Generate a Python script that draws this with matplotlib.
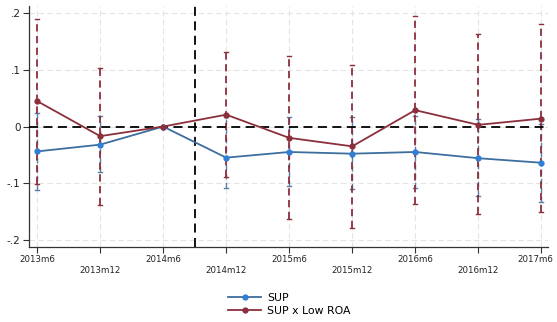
import matplotlib
matplotlib.use("Agg")
import matplotlib.pyplot as plt
import matplotlib.transforms as mtransforms
import numpy as np

periods = ["2013m6", "2013m12", "2014m6", "2014m12", "2015m6",
           "2015m12", "2016m6", "2016m12", "2017m6"]

sup = [-0.044, -0.032, 0.0, -0.055, -0.045, -0.048, -0.045, -0.056, -0.064]
sup_lo = [-0.112, -0.081, 0.0, -0.109, -0.105, -0.111, -0.109, -0.123, -0.133]
sup_hi = [0.024, 0.019, 0.0, 0.016, 0.016, 0.016, 0.019, 0.014, 0.004]

low = [0.045, -0.017, 0.0, 0.021, -0.020, -0.035, 0.029, 0.003, 0.014]
low_lo = [-0.102, -0.138, 0.0, -0.090, -0.164, -0.179, -0.137, -0.155, -0.151]
low_hi = [0.191, 0.103, 0.0, 0.132, 0.124, 0.109, 0.196, 0.163, 0.181]

yticks = [0.2, 0.1, 0.0, -0.1, -0.2]
ytick_labels = [".2", ".1", "0", "-.1", "-.2"]

blue_line = "#3c6e9e"
blue_mark = "#2f7fd6"
red_line = "#8c2f3d"

fig = plt.figure(figsize=(5.57, 3.22), dpi=100)
ax = fig.add_axes([0.052, 0.233, 0.932, 0.748])

x = np.arange(len(periods))

def draw_ci(xs, lo, hi, color, lw, z):
    for xi, l, h in zip(xs, lo, hi):
        if l == h:
            continue
        ax.plot([xi, xi], [l, h], color=color, lw=lw, ls=(0, (4, 2.5)), zorder=z)
        ax.plot([xi - 0.035, xi + 0.035], [l, l], color=color, lw=1.0, zorder=z)
        ax.plot([xi - 0.035, xi + 0.035], [h, h], color=color, lw=1.0, zorder=z)

draw_ci(x, sup_lo, sup_hi, "#5a7fa6", 1.0, 2)
draw_ci(x, low_lo, low_hi, red_line, 1.3, 3)

ax.axhline(0, color="black", lw=1.3, ls=(0, (5, 3)), zorder=4)
ax.axvline(2.5, color="black", lw=1.3, ls=(0, (5, 3)), zorder=4)

ax.plot(x, sup, color=blue_line, lw=1.3, marker="o", ms=3.5,
        mfc=blue_mark, mec=blue_mark, zorder=5, label="SUP")
ax.plot(x, low, color=red_line, lw=1.3, marker="o", ms=3.5,
        mfc=red_line, mec=red_line, zorder=6, label="SUP x Low ROA")

ax.set_xlim(-0.13, 8.11)
ax.set_ylim(-0.213, 0.213)
ax.set_yticks(yticks)
ax.set_yticklabels(ytick_labels, fontsize=7.5, color="#222222")
ax.set_xticks(x)
labels = [p if i % 2 == 0 else "\n" + p for i, p in enumerate(periods)]
ax.set_xticklabels(labels, fontsize=6.2, color="#222222", linespacing=1.25)
ax.tick_params(axis="both", length=4, width=0.8, color="#333333", direction="out", pad=2)

# keep the last period label inside the figure edge
last = ax.get_xticklabels()[-1]
last.set_transform(last.get_transform() +
                   mtransforms.ScaledTranslation(-4 / 72, 0, fig.dpi_scale_trans))

ax.grid(True, color="#e4e4e4", lw=0.8, ls=(0, (5, 3)), zorder=0)
for side in ("top", "right"):
    ax.spines[side].set_visible(False)
for side in ("left", "bottom"):
    ax.spines[side].set_color("#333333")
    ax.spines[side].set_linewidth(0.9)

fig.legend(loc="upper center", bbox_to_anchor=(0.52, 0.105), frameon=False,
           fontsize=7.8, handlelength=3, labelspacing=0.3, handletextpad=0.6,
           borderaxespad=0)

fig.savefig("out.png", dpi=100)
